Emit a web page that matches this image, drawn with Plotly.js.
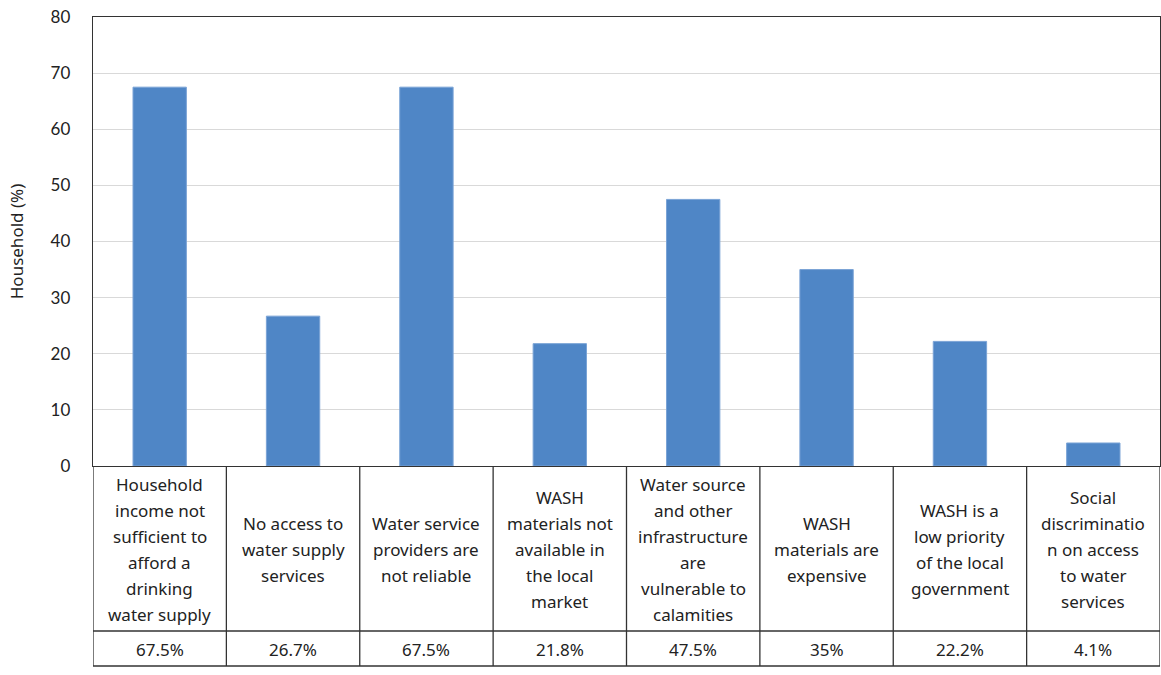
<!DOCTYPE html>
<html>
<head>
<meta charset="utf-8">
<script src="https://cdn.plot.ly/plotly-3.0.1.min.js"></script>
<style>html,body{margin:0;padding:0;background:#fff;}#chart{width:1161px;height:675px;}</style>
</head>
<body>
<div id="chart"></div>
<script>
var categories = [
  "Household<br>income not<br>sufficient to<br>afford a<br>drinking<br>water supply",
  "No access to<br>water supply<br>services",
  "Water service<br>providers are<br>not reliable",
  "WASH<br>materials not<br>available in<br>the local<br>market",
  "Water source<br>and other<br>infrastructure<br>are<br>vulnerable to<br>calamities",
  "WASH<br>materials are<br>expensive",
  "WASH is a<br>low priority<br>of the local<br>government",
  "Social<br>discriminatio<br>n on access<br>to water<br>services"
];
var values = [67.5, 26.7, 67.5, 21.8, 47.5, 35, 22.2, 4.1];
var valueLabels = ["67.5%", "26.7%", "67.5%", "21.8%", "47.5%", "35%", "22.2%", "4.1%"];
var yTicks = [0, 10, 20, 30, 40, 50, 60, 70, 80];

var W = 1161, H = 675;
var mT = 17, mB = 209, mL = 93, mR = 1;
var plotH = H - mT - mB;
var tableTop = 466, rowSplit = 631, tableBottom = 666;
var xs = categories.map(function (c, i) { return i; });

var shapes = [];
var lineStyle = {color: '#333333', width: 1.3};
for (var i = 0; i <= categories.length; i++) {
  shapes.push({type: 'line', xref: 'x', yref: 'paper', x0: i - 0.5, x1: i - 0.5,
    y0: 0, y1: -(tableBottom - tableTop) / plotH, line: lineStyle});
}
shapes.push({type: 'line', xref: 'x', yref: 'paper', x0: -0.5, x1: categories.length - 0.5,
  y0: -(rowSplit - tableTop) / plotH, y1: -(rowSplit - tableTop) / plotH, line: lineStyle});
shapes.push({type: 'line', xref: 'x', yref: 'paper', x0: -0.5, x1: categories.length - 0.5,
  y0: -(tableBottom - tableTop) / plotH, y1: -(tableBottom - tableTop) / plotH, line: lineStyle});

var annotations = [];
var lineGap = 25.8;
var cellMid = (tableTop + rowSplit) / 2 + 1;
var tFont = {family: 'Noto Sans, sans-serif', size: 17, color: '#222222'};
categories.forEach(function (c, i) {
  var lines = c.split('<br>');
  var n = lines.length;
  lines.forEach(function (ln, k) {
    var yPix = cellMid + (k - (n - 1) / 2) * lineGap;
    annotations.push({x: xs[i], xref: 'x', y: (tableTop - yPix) / plotH,
      yref: 'paper', text: ln, showarrow: false, xanchor: 'center', yanchor: 'middle', font: tFont});
  });
  annotations.push({x: xs[i], xref: 'x', y: (tableTop - (rowSplit + tableBottom) / 2 - 1) / plotH,
    yref: 'paper', text: valueLabels[i], showarrow: false, xanchor: 'center', yanchor: 'middle', font: tFont});
});

var trace = {
  type: 'bar',
  x: xs,
  y: values,
  width: 0.4,
  marker: {color: '#4f86c6', line: {color: '#7aa3d6', width: 1}},
  hoverinfo: 'y'
};

var layout = {
  width: W, height: H,
  margin: {t: mT, b: mB, l: mL, r: mR, pad: 0},
  paper_bgcolor: '#ffffff', plot_bgcolor: '#ffffff',
  showlegend: false,
  xaxis: {
    range: [-0.5, categories.length - 0.5],
    showticklabels: false, showgrid: false, zeroline: false,
    showline: true, linecolor: '#333333', linewidth: 1.3, mirror: true, ticks: ''
  },
  yaxis: {
    range: [0, 80], tickvals: yTicks, ticktext: yTicks.map(String),
    showgrid: true, gridcolor: '#d9d9d9', gridwidth: 1,
    zeroline: false, showline: true, linecolor: '#333333', linewidth: 1.3, mirror: true,
    ticks: '', ticklabelstandoff: 18,
    tickfont: {family: 'Lato, sans-serif', size: 17, color: '#222222'},
    title: {text: 'Household (%)', standoff: 22, font: {family: 'Noto Sans, sans-serif', size: 17, color: '#222222'}}
  },
  shapes: shapes,
  annotations: annotations
};

Plotly.newPlot('chart', [trace], layout, {displayModeBar: false, staticPlot: true});
</script>
</body>
</html>
